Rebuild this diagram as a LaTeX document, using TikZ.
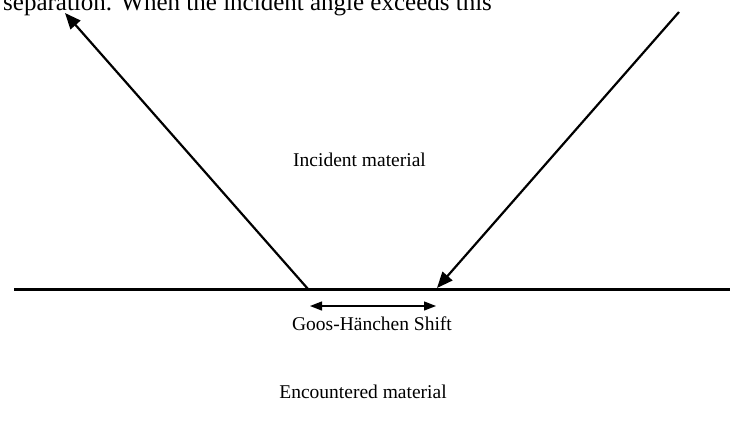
\documentclass[tikz,border=0pt]{standalone}
\usepackage{fontspec}
\setmainfont{Liberation Serif}
\usetikzlibrary{arrows.meta}
\begin{document}
\begin{tikzpicture}[x=1pt,y=-1pt,
  ray/.style={line width=2.2pt,-{Triangle[length=16pt,width=13pt]}},
  surface/.style={line width=3pt},
  shiftarrow/.style={line width=1.3pt,{Triangle[length=12pt,width=9pt]}-{Triangle[length=12pt,width=9pt]}},
  label/.style={inner sep=0pt,font=\fontsize{19.5}{23}\selectfont},
  toptext/.style={inner sep=0pt,font=\fontsize{25}{29}\selectfont}]
\useasboundingbox (0,0) rectangle (731,421);
\clip (0,0) rectangle (731,421);
% coordinates
\coordinate (H0) at (14,289);
\coordinate (H1) at (730,289);
\coordinate (L0) at (308,289);
\coordinate (L1) at (65,13);
\coordinate (R0) at (679,12);
\coordinate (R1) at (437,288);
\coordinate (G0) at (310,306);
\coordinate (G1) at (436,306);
% texts
\node[toptext,anchor=base west] (top) at (3,10) {separation. When the incident angle exceeds this};
\node[label,anchor=base west] (inc) at (293,166) {Incident material};
\node[label,anchor=base] (gh) at (372,330) {Goos-Hänchen Shift};
\node[label,anchor=base] (enc) at (363,398) {Encountered material};
% lines
\draw[surface] (H0) -- (H1);
\draw[ray] (L0) -- (L1);
\draw[ray] (R0) -- (R1);
\draw[shiftarrow] (G0) -- (G1);
\end{tikzpicture}
\end{document}
